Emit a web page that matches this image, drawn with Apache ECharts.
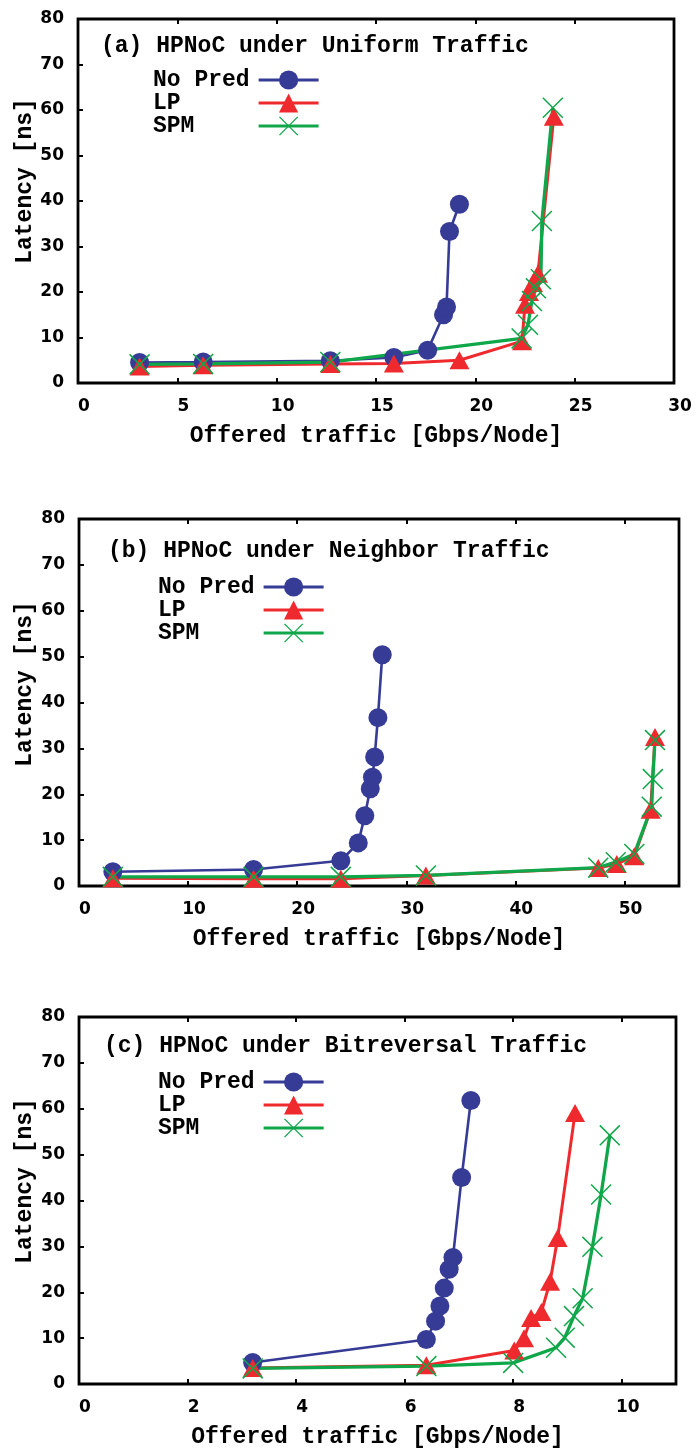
<!DOCTYPE html>
<html>
<head>
<meta charset="utf-8">
<script src="https://cdn.jsdelivr.net/npm/echarts@6/dist/echarts.min.js"></script>
<style>
html, body { margin: 0; padding: 0; background: #fff; }
#myChart { width: 698px; height: 1452px; }
</style>
</head>
<body>
<div id="myChart"></div>
<script>
// (a) uniform traffic
var uniformNoPred = [[3.1,4.5],[6.3,4.6],[12.7,4.9],[15.9,5.6],[17.6,7.2],[18.4,15.0],[18.55,16.7],[18.7,33.3],[19.2,39.3]];
var uniformLP = [[3.1,3.6],[6.3,3.9],[12.7,4.2],[15.9,4.3],[19.2,5.0],[22.35,9.2],[22.5,17.2],[22.7,20.0],[22.9,22.0],[23.15,24.0],[23.95,58.5]];
var uniformSPM = [[3.1,4.1],[6.3,4.2],[12.7,4.6],[22.33,9.8],[22.65,12.8],[22.85,18.0],[23.05,20.8],[23.3,22.8],[23.35,35.6],[23.9,60.5]];

// (b) neighbor traffic
var neighborNoPred = [[3.1,3.1],[16.0,3.6],[24.0,5.5],[25.6,9.4],[26.2,15.3],[26.7,21.2],[26.9,23.7],[27.1,28.1],[27.4,36.7],[27.8,50.4]];
var neighborLP = [[3.1,1.7],[16.0,1.6],[24.0,1.6],[31.8,2.3],[47.6,3.9],[49.3,4.8],[50.9,6.5],[52.4,16.6],[52.8,32.5]];
var neighborSPM = [[3.1,2.0],[16.0,2.0],[24.0,2.0],[31.8,2.3],[47.6,4.0],[49.2,5.2],[50.9,7.0],[52.5,17.3],[52.6,23.3],[52.8,31.8]];

// (c) bitreversal traffic
var bitrevNoPred = [[3.2,4.7],[6.4,9.7],[6.57,13.7],[6.65,17.0],[6.73,20.9],[6.82,25.0],[6.89,27.6],[7.05,45.0],[7.22,61.8]];
var bitrevLP = [[3.2,3.5],[6.4,4.1],[8.02,7.3],[8.2,10.0],[8.33,14.4],[8.52,15.7],[8.68,22.3],[8.82,31.8],[9.14,59.1]];
var bitrevSPM = [[3.2,3.4],[6.4,3.9],[8.0,4.6],[8.79,7.9],[8.95,10.1],[9.12,14.8],[9.28,18.7],[9.46,29.9],[9.62,41.3],[9.78,54.2]];

var panelTitles = ["(a) HPNoC under Uniform Traffic", "(b) HPNoC under Neighbor Traffic", "(c) HPNoC under Bitreversal Traffic"];
var xMax = [30, 55, 11];
var xStep = [5, 10, 2];
var yMax = 80;
var yStep = 10;
var seriesNames = ["No Pred", "LP", "SPM"];
var xTitle = "Offered traffic [Gbps/Node]";
var yTitle = "Latency [ns]";

var blue = "#363b96";
var red = "#ee2a2e";
var green = "#10a74a";
var crossPath = "path://M0,1L1,0L20,19L19,20Z M19,0L20,1L1,20L0,19Z";
var mono = "Liberation Mono";
var numFont = "DejaVu Sans";

var grids = [
  { left: 78, right: 24, top: 19, height: 364 },
  { left: 79, right: 19, top: 519, height: 367 },
  { left: 79, right: 22, top: 1017, height: 367 }
];
var titleY = [46, 551, 1046];
var titleX = [101, 108, 104];
var legendX = [153, 158, 158];
var legendY = [80, 587, 1082];
var yTitleY = [181, 684, 1181];

var option = {
  animation: false,
  backgroundColor: "#fff",
  title: [],
  legend: [],
  grid: [],
  xAxis: [],
  yAxis: [],
  graphic: [],
  series: []
};

for (let i = 0; i < 3; i++) {
  option.grid.push(Object.assign({
    show: true,
    borderColor: "#000",
    borderWidth: 2.8,
    backgroundColor: "transparent"
  }, grids[i]));

  option.title.push({
    text: panelTitles[i],
    left: titleX[i],
    top: titleY[i] - 12,
    padding: 0,
    textStyle: { fontFamily: mono, fontWeight: "bold", fontSize: 23, lineHeight: 24, color: "#000" }
  });

  option.legend.push({
    data: seriesNames,
    orient: "vertical",
    align: "right",
    left: legendX[i],
    top: legendY[i] - 12,
    padding: 0,
    itemWidth: 60,
    itemHeight: 24,
    itemGap: -1,
    selectedMode: false,
    lineStyle: { width: 3 },
    formatter: function (name) { return name.padEnd(7, " "); },
    textStyle: { fontFamily: mono, fontWeight: "bold", fontSize: 23, lineHeight: 24, color: "#000", padding: [0, 4, 0, 0] }
  });

  option.xAxis.push({
    type: "value",
    gridIndex: i,
    min: 0,
    max: xMax[i],
    interval: xStep[i],
    name: xTitle,
    nameLocation: "middle",
    nameGap: 42,
    nameTextStyle: { fontFamily: mono, fontWeight: "bold", fontSize: 23, color: "#000" },
    axisLine: { show: false },
    axisTick: { inside: true, length: 5, lineStyle: { color: "#000", width: 2 } },
    axisLabel: {
      showMaxLabel: i === 0,
      margin: 15,
      padding: [0, 0, 0, 12],
      fontFamily: numFont, fontWeight: "bold", fontSize: 17, color: "#000"
    },
    splitLine: { show: false }
  });

  option.yAxis.push({
    type: "value",
    gridIndex: i,
    min: 0,
    max: yMax,
    interval: yStep,
    axisLine: { show: false },
    axisTick: { inside: true, length: 5, lineStyle: { color: "#000", width: 2 } },
    axisLabel: { margin: 14, fontFamily: numFont, fontWeight: "bold", fontSize: 17, color: "#000" },
    splitLine: { show: false }
  });

  option.graphic.push({
    type: "text",
    x: 25,
    y: yTitleY[i],
    rotation: Math.PI / 2,
    style: {
      text: yTitle,
      fontFamily: mono, fontWeight: "bold", fontSize: 23,
      fill: "#000",
      align: "center",
      verticalAlign: "middle"
    }
  });
}

// mirrored ticks on the top edge
for (let i = 0; i < 3; i++) {
  option.xAxis.push({
    type: "value",
    gridIndex: i,
    position: "top",
    min: 0,
    max: xMax[i],
    interval: xStep[i],
    axisLine: { show: false },
    axisTick: { inside: true, length: 5, lineStyle: { color: "#000", width: 2 } },
    axisLabel: { show: false },
    splitLine: { show: false }
  });
}

var panelData = [
  [uniformNoPred, uniformLP, uniformSPM],
  [neighborNoPred, neighborLP, neighborSPM],
  [bitrevNoPred, bitrevLP, bitrevSPM]
];

for (let i = 0; i < 3; i++) {
  option.series.push({
    name: "No Pred", type: "line", xAxisIndex: i, yAxisIndex: i,
    data: panelData[i][0], clip: false,
    symbol: "circle", symbolSize: 19,
    itemStyle: { color: blue },
    lineStyle: { color: blue, width: 2.6 }
  });
  option.series.push({
    name: "LP", type: "line", xAxisIndex: i, yAxisIndex: i,
    data: panelData[i][1], clip: false,
    symbol: "triangle", symbolSize: [20, 18],
    itemStyle: { color: red },
    lineStyle: { color: red, width: 3 }
  });
  option.series.push({
    name: "SPM", type: "line", xAxisIndex: i, yAxisIndex: i,
    data: panelData[i][2], clip: false,
    symbol: crossPath, symbolSize: 21,
    itemStyle: { color: green },
    lineStyle: { color: green, width: 3.3 }
  });
}

var chartDom = document.getElementById("myChart");
var myChart = echarts.init(chartDom, null, { renderer: "canvas" });
myChart.setOption(option);
</script>
</body>
</html>
